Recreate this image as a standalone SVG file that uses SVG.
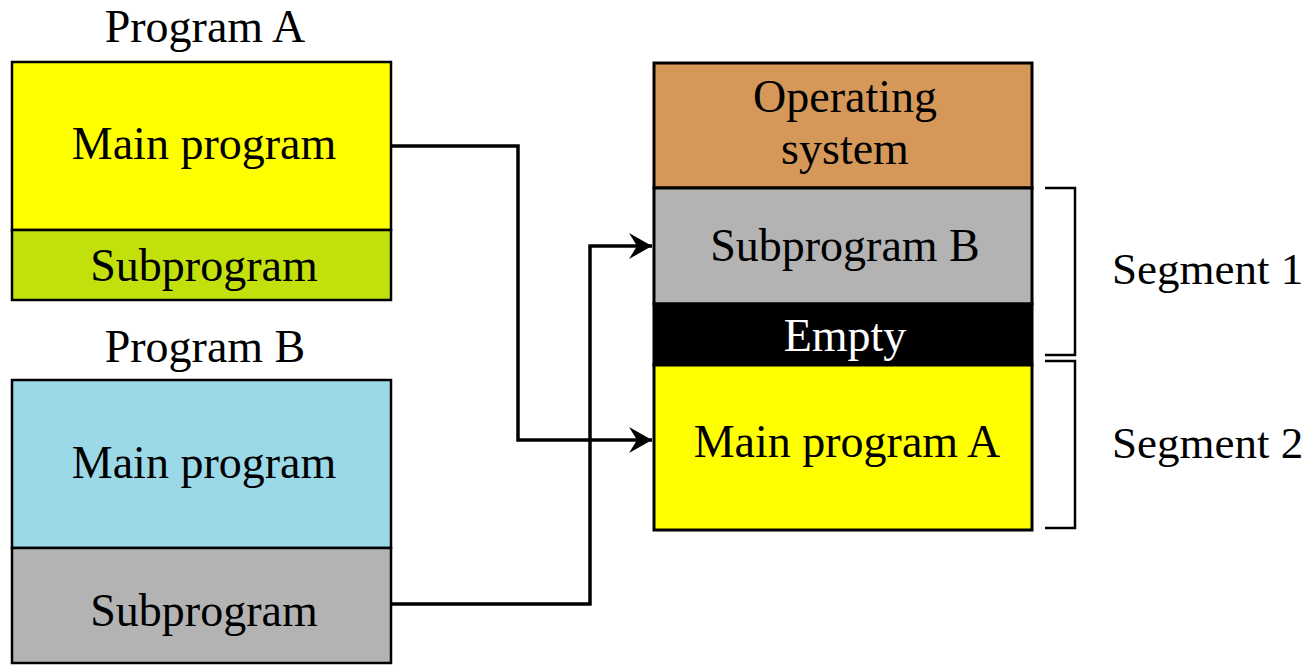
<svg xmlns="http://www.w3.org/2000/svg" width="1312" height="665" viewBox="0 0 1312 665">
  <style>
    .lbl { font-family: "Liberation Serif", "Times New Roman", serif; font-size: 46px; fill: #000; text-anchor: middle; }
    .seg { font-family: "Liberation Serif", "Times New Roman", serif; font-size: 45px; fill: #000; }
    .box { stroke: #000; stroke-width: 2.5; }
    .mem { stroke: #000; stroke-width: 3; }
    .wire { fill: none; stroke: #000; stroke-width: 3.5; }
    .brace { fill: none; stroke: #000; stroke-width: 2.5; }
  </style>
  <defs>
    <marker id="arrow" markerUnits="userSpaceOnUse" markerWidth="26" markerHeight="28" refX="24" refY="13" orient="auto">
      <path d="M24,13 L1,0 L9,13 L1,26 Z" fill="#000"/>
    </marker>
  </defs>
  <rect width="1312" height="665" fill="#fff"/>

  <!-- Program A -->
  <g id="program-a">
    <text class="lbl" x="205" y="42">Program A</text>
    <rect class="box" x="12" y="62" width="379" height="168" fill="#FFFF00"/>
    <rect class="box" x="12" y="230" width="379" height="70" fill="#C2E00C"/>
    <text class="lbl" x="204" y="159">Main program</text>
    <text class="lbl" x="204" y="281">Subprogram</text>
  </g>

  <!-- Program B -->
  <g id="program-b">
    <text class="lbl" x="205" y="362">Program B</text>
    <rect class="box" x="12" y="380" width="379" height="168" fill="#9BD9E8"/>
    <rect class="box" x="12" y="548" width="379" height="115" fill="#B3B3B3"/>
    <text class="lbl" x="204" y="478">Main program</text>
    <text class="lbl" x="204" y="626">Subprogram</text>
  </g>

  <!-- Memory layout -->
  <g id="memory">
    <rect class="mem" x="654" y="63" width="378" height="125" fill="#D59858"/>
    <rect class="mem" x="654" y="188" width="378" height="116" fill="#B3B3B3"/>
    <rect class="mem" x="654" y="304" width="378" height="61" fill="#000"/>
    <rect class="mem" x="654" y="365" width="378" height="165" fill="#FFFF00"/>
    <text class="lbl" x="845" y="112">Operating</text>
    <text class="lbl" x="845" y="164">system</text>
    <text class="lbl" x="845" y="261">Subprogram B</text>
    <text class="lbl" x="845" y="351" style="fill:#fff">Empty</text>
    <text class="lbl" x="847" y="457">Main program A</text>
  </g>

  <!-- Segment brackets -->
  <g id="segment-1">
    <path class="brace" d="M1045,188 H1075 V355 H1045"/>
    <text class="seg" x="1112" y="284">Segment 1</text>
  </g>
  <g id="segment-2">
    <path class="brace" d="M1045,361 H1075 V528 H1045"/>
    <text class="seg" x="1112" y="458">Segment 2</text>
  </g>

  <!-- Connectors -->
  <g id="connectors">
    <path class="wire" d="M391,146 H518 V440 H652" marker-end="url(#arrow)"/>
    <path class="wire" d="M391,604 H590 V246 H652" marker-end="url(#arrow)"/>
  </g>
</svg>
